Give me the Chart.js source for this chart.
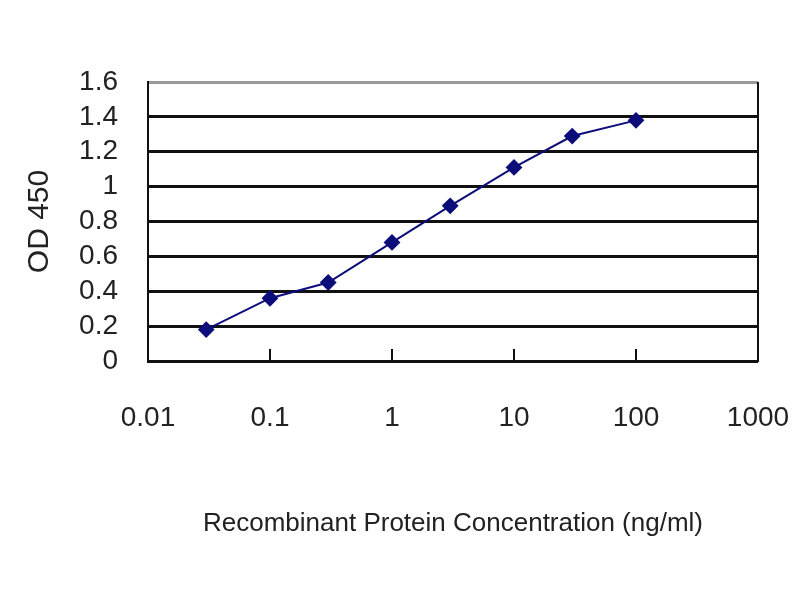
<!DOCTYPE html>
<html>
<head>
<meta charset="utf-8">
<script src="https://cdn.jsdelivr.net/npm/chart.js@4"></script>
<style>
  html, body { margin: 0; padding: 0; background: #fff; }
  #wrap { width: 800px; height: 600px; }
</style>
</head>
<body>
<div id="wrap"><canvas id="odChart" width="800" height="600"></canvas></div>
<script>
// ── Data ──
const concentrations = [0.03, 0.1, 0.3, 1, 3, 10, 30, 100];
const odValues = [0.18, 0.36, 0.45, 0.68, 0.89, 1.11, 1.29, 1.38];
const xTickValues = [0.01, 0.1, 1, 10, 100, 1000];
const xTickLabels = ['0.01', '0.1', '1', '10', '100', '1000'];
const yTickValues = [0, 0.2, 0.4, 0.6, 0.8, 1, 1.2, 1.4, 1.6];
const yTickLabels = ['0', '0.2', '0.4', '0.6', '0.8', '1', '1.2', '1.4', '1.6'];

// ── Frame + inward decade ticks ──
const framePlugin = {
  id: 'frame',
  afterDraw(chart) {
    const { ctx, chartArea } = chart;
    const x = chart.scales.x;
    ctx.save();
    ctx.strokeStyle = '#111';
    ctx.lineWidth = 2;
    ctx.beginPath();
    ctx.moveTo(chartArea.right, chartArea.top);
    ctx.lineTo(chartArea.right, chartArea.bottom);
    xTickValues.forEach(v => {
      const px = Math.round(x.getPixelForValue(v));
      ctx.moveTo(px, chartArea.bottom);
      ctx.lineTo(px, chartArea.bottom - 12);
    });
    ctx.stroke();
    ctx.restore();
  }
};

const tickFont = { family: "'Liberation Sans', Arial, sans-serif", size: 28 };

new Chart(document.getElementById('odChart'), {
  type: 'line',
  data: {
    datasets: [{
      data: concentrations.map((c, i) => ({ x: c, y: odValues[i] })),
      borderColor: '#0c0c7a',
      backgroundColor: '#0c0c7a',
      borderWidth: 2,
      pointStyle: 'rectRot',
      pointRadius: 7,
      tension: 0
    }]
  },
  options: {
    responsive: false,
    animation: false,
    layout: { padding: { top: 82, right: 42, left: 0, bottom: 0 } },
    plugins: { legend: { display: false }, tooltip: { enabled: false } },
    scales: {
      x: {
        type: 'logarithmic',
        min: 0.01,
        max: 1000,
        afterBuildTicks: s => { s.ticks = xTickValues.map(v => ({ value: v })); },
        afterFit: s => { s.height = 239; s.paddingLeft = 0; s.paddingRight = 0; },
        grid: { display: false, drawTicks: false },
        border: { color: '#111', width: 2 },
        ticks: {
          font: tickFont,
          color: '#222',
          padding: 40,
          maxRotation: 0,
          autoSkip: false,
          callback: (v) => xTickLabels[xTickValues.indexOf(v)]
        },
        title: {
          display: true,
          text: 'Recombinant Protein Concentration (ng/ml)',
          color: '#222',
          font: { family: "'Liberation Sans', Arial, sans-serif", size: 26 },
          padding: { top: 0, bottom: 61 }
        }
      },
      y: {
        min: 0,
        max: 1.6,
        afterBuildTicks: s => { s.ticks = yTickValues.map(v => ({ value: v })); },
        afterFit: s => { s.width = 148; s.paddingTop = 0; s.paddingBottom = 0; },
        grid: {
          drawTicks: false,
          lineWidth: 3,
          color: c => (c.tick && c.tick.value === 1.6) ? '#999' : '#111'
        },
        border: { color: '#111', width: 2 },
        ticks: {
          font: tickFont,
          color: '#222',
          padding: 30,
          autoSkip: false,
          callback: (v) => yTickLabels[yTickValues.indexOf(v)]
        },
        title: {
          display: true,
          text: 'OD 450',
          color: '#222',
          font: { family: "'Liberation Sans', Arial, sans-serif", size: 30 },
          padding: { top: 22, bottom: 0 }
        }
      }
    }
  },
  plugins: [framePlugin]
});
</script>
</body>
</html>
